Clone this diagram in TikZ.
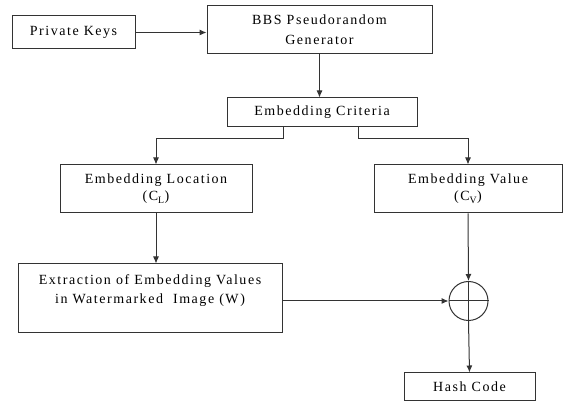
\documentclass[tikz,border=0pt]{standalone}
\usepackage{fontspec}
\setmainfont{Liberation Serif}[LetterSpace=11]
\usetikzlibrary{arrows.meta}

\begin{document}
\begin{tikzpicture}[x=1pt,y=-1pt,
    box/.style={draw=black!80,line width=1pt,align=center,inner sep=0pt,
      font=\fontsize{14}{18}\selectfont},
    arr/.style={draw=black!80,line width=1pt,-{Latex[length=7pt,width=6pt]}}]
  \useasboundingbox (0,0) rectangle (563,403);
  % boxes
  \node[box,minimum width=123pt,minimum height=33pt] (keys) at (73.5,32.5) {Private Keys};
  \node[box,minimum width=225pt,minimum height=48pt,
    font=\fontsize{14}{20}\selectfont] (bbs) at (319.5,30) {BBS Pseudorandom\\Generator};
  \node[box,minimum width=190pt,minimum height=29pt] (criteria) at (322,112.5) {Embedding Criteria};
  \node[box,minimum width=192pt,minimum height=48pt,
    font=\fontsize{14}{17}\selectfont] (location) at (156,189) {Embedding Location\\(C\textsubscript{L})};
  \node[box,minimum width=188pt,minimum height=48pt,
    font=\fontsize{14}{17}\selectfont] (value) at (468,189) {Embedding Value\\(C\textsubscript{V})};
  \node[box,minimum width=264pt,minimum height=69pt,
    font=\fontsize{14}{19}\selectfont] (extract) at (150,298.5)
    {Extraction of Embedding Values\\in Watermarked~ Image (W)\\\mbox{}};
  \node[draw=black!80,line width=1pt,circle,minimum size=39pt,inner sep=0pt] (xor) at (468.5,301) {};
  \draw[black!80,line width=1pt] (xor.west) -- (xor.east);
  \node[box,minimum width=131pt,minimum height=28pt] (hash) at (469.5,387) {Hash Code};

  % connectors
  \draw[arr] (keys.east) -- (keys.east -| bbs.west);
  \draw[arr] (bbs.south) -- (bbs.south |- criteria.north);
  \draw[arr] ([xshift=-39pt]criteria.south) -- ++(0,11) -| (location.north);
  \draw[arr] ([xshift=36pt]criteria.south) -- ++(0,11) -| (value.north);
  \draw[arr] (location.south) -- (location.south |- extract.north);
  \draw[arr] (value.south) -- (xor.north);
  \draw[black!80,line width=1pt] (xor.north) -- (xor.south);
  \draw[arr] (xor.west -| extract.east) -- (xor.west);
  \draw[arr] (xor.south) -- (hash.north);
\end{tikzpicture}
\end{document}
